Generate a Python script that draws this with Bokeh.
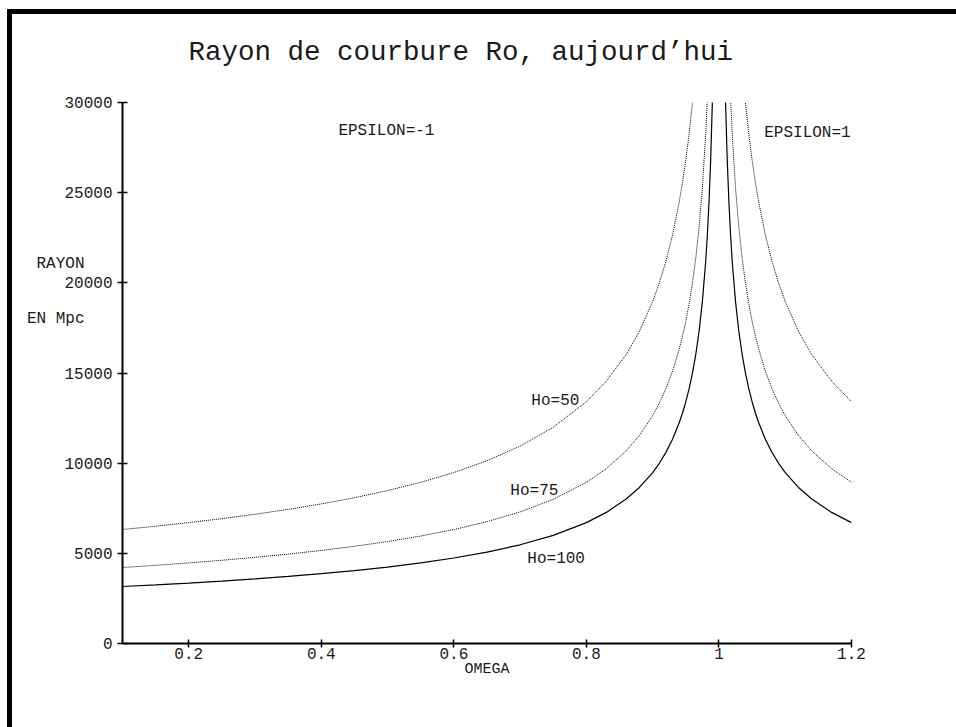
from bokeh.plotting import figure
from bokeh.models import FixedTicker, Range1d, LinearAxis, InlineStyleSheet
from bokeh.core.properties import value
from bokeh.embed import file_html
from bokeh.resources import INLINE

# ---- data ----
omega_left = [0.1, 0.15, 0.2, 0.25, 0.3, 0.35, 0.4, 0.45, 0.5, 0.55, 0.6, 0.65, 0.7, 0.75,
              0.8, 0.83, 0.86, 0.88, 0.9, 0.91, 0.92, 0.93, 0.94, 0.945, 0.95, 0.955, 0.96,
              0.965, 0.97, 0.975, 0.98, 0.9825, 0.985, 0.9875, 0.99, 0.992, 0.994]
omega_right = [1.006, 1.008, 1.01, 1.0125, 1.015, 1.0175, 1.02, 1.025, 1.03, 1.035, 1.04,
               1.045, 1.05, 1.055, 1.06, 1.07, 1.08, 1.09, 1.1, 1.12, 1.14, 1.17, 1.2]

r_h50_left = [6320.2, 6503.4, 6703.6, 6923.4, 7166.4, 7437.0, 7740.6, 8084.8, 8479.4, 8938.0,
              9480.2, 10134.8, 10946.8, 11991.6, 13407.2, 14542.0, 16024.6, 17308.4, 18960.6,
              19986.2, 21198.4, 22662.2, 24477.8, 25566.4, 26814.2, 28264.6, 29979.2, 32049.0,
              34617.0, 37921.0, 42397.0, 45324.2, 48955.8, 53626.4, 59958.4, 67036.0, 77405.8]
r_h75_left = [4213.4, 4335.6, 4469.0, 4615.6, 4777.6, 4958.0, 5160.4, 5389.9, 5652.9, 5958.7,
              6320.2, 6756.6, 7297.9, 7994.5, 8938.1, 9694.7, 10683.0, 11538.9, 12640.4,
              13324.1, 14132.3, 15108.1, 16318.6, 17044.2, 17876.1, 18843.1, 19986.2, 21366.0,
              23078.0, 25280.7, 28264.7, 30216.1, 32637.2, 35751.0, 39972.3, 44690.7, 51603.9]
r_h100_left = [3160.1, 3251.7, 3351.8, 3461.7, 3583.2, 3718.5, 3870.3, 4042.4, 4239.7, 4469.0,
               4740.1, 5067.4, 5473.4, 5995.8, 6703.6, 7271.0, 8012.3, 8654.2, 9480.3,
               9993.1, 10599.2, 11331.1, 12238.9, 12783.2, 13407.1, 14132.3, 14989.6, 16024.5,
               17308.5, 18960.5, 21198.5, 22662.1, 24477.9, 26813.2, 29979.2, 33518.0, 38702.9]

r_h50_right = [77405.8, 67036.0, 59958.4, 53626.4, 48955.8, 45324.2, 42397.0, 37921.0, 34617.0,
               32049.0, 29979.2, 28264.6, 26814.2, 25566.4, 24477.8, 22662.2, 21198.4, 19986.2,
               18960.6, 17308.4, 16024.6, 14542.0, 13407.2]
r_h75_right = [51603.9, 44690.7, 39972.3, 35751.0, 32637.2, 30216.1, 28264.7, 25280.7, 23078.0,
               21366.0, 19986.2, 18843.1, 17876.1, 17044.2, 16318.6, 15108.1, 14132.3, 13324.1,
               12640.4, 11538.9, 10683.0, 9694.7, 8938.1]
r_h100_right = [38702.9, 33518.0, 29979.2, 26813.2, 24477.9, 22662.1, 21198.5, 18960.5, 17308.5,
                16024.5, 14989.6, 14132.3, 13407.1, 12783.2, 12238.9, 11331.1, 10599.2, 9993.1,
                9480.3, 8654.2, 8012.3, 7271.0, 6703.6]

x_ticks = [0.2, 0.4, 0.6, 0.8, 1.0, 1.2]
x_tick_labels = ["0.2", "0.4", "0.6", "0.8", "1", "1.2"]
y_ticks = [0, 5000, 10000, 15000, 20000, 25000, 30000]
y_tick_labels = ["0", "5000", "10000", "15000", "20000", "25000", "30000"]

# y-axis caption lines and where they sit (data units)
ycap_pos = [21072, 18022]
ycap_text = ["RAYON", "EN Mpc"]

# in-plot annotations
note_x = [0.4258, 1.0683, 0.7169, 0.6852, 0.7109]
note_y = [28447, 28336, 13420, 8484, 4713]
note_text = ["EPSILON=-1", "EPSILON=1", "Ho=50", "Ho=75", "Ho=100"]

title_text = "Rayon de courbure Ro, aujourd\u2019hui"
x_label = "OMEGA"
FONT = "Liberation Mono"
TXT = "#1a1a1a"

p = figure(width=956, height=727, output_backend="svg", toolbar_location=None,
           x_range=Range1d(0.1, 1.2), y_range=Range1d(0, 30000),
           min_border_left=122, min_border_right=105, min_border_top=102, min_border_bottom=84,
           title=title_text)
p.outline_line_color = None
p.grid.visible = False
p.background_fill_color = "white"
p.border_fill_color = "white"

# page frame (left and top edges of the sheet), drawn as an overlay on top of the canvas
frame_css = (":host{position:relative;}"
             ":host::after{content:'';position:absolute;left:7px;top:9px;right:0;bottom:0;"
             "border-left:5px solid #000;border-top:5px solid #000;"
             "pointer-events:none;z-index:10;}")
p.stylesheets = [InlineStyleSheet(css=frame_css)]

p.title.text_font = FONT
p.title.text_font_size = "27.5px"
p.title.text_font_style = "normal"
p.title.text_color = TXT
p.title.align = "left"
p.title.offset = 66
p.title.standoff = 69

for ax in (p.xaxis[0], p.yaxis[0]):
    ax.axis_line_width = 2
    ax.axis_line_color = "black"
    ax.major_tick_line_color = "black"
    ax.major_tick_line_width = 1.5
    ax.minor_tick_line_color = None
    ax.major_label_text_font = FONT
    ax.major_label_text_font_size = "16px"
    ax.major_label_text_color = TXT

p.xaxis.ticker = FixedTicker(ticks=x_ticks)
p.xaxis.major_label_overrides = {t: l for t, l in zip(x_ticks, x_tick_labels)}
p.xaxis.major_tick_in = 4
p.xaxis.major_tick_out = 4
p.xaxis.major_label_standoff = 0
p.xaxis.axis_label = x_label
p.xaxis.axis_label_text_font = FONT
p.xaxis.axis_label_text_font_size = "15px"
p.xaxis.axis_label_text_font_style = "normal"
p.xaxis.axis_label_text_color = TXT
p.xaxis.axis_label_standoff = -1

p.yaxis.ticker = FixedTicker(ticks=y_ticks)
p.yaxis.major_label_overrides = {t: l for t, l in zip(y_ticks, y_tick_labels)}
p.yaxis.major_tick_in = 5
p.yaxis.major_tick_out = 5
p.yaxis.major_label_standoff = 5

cap_axis = LinearAxis(ticker=FixedTicker(ticks=ycap_pos),
                      major_label_overrides={t: l for t, l in zip(ycap_pos, ycap_text)},
                      axis_line_color=None, major_tick_line_color=None, minor_tick_line_color=None,
                      major_tick_in=0, major_tick_out=0, major_label_standoff=-23,
                      major_label_text_font=FONT, major_label_text_font_size="16px",
                      major_label_text_color=TXT)
p.add_layout(cap_axis, "left")

# curves
p.line(omega_left, r_h50_left, line_color="black", line_width=1, line_dash="1 1")
p.line(omega_right, r_h50_right, line_color="black", line_width=1, line_dash="1 1")
p.line(omega_left, r_h75_left, line_color="black", line_width=1, line_dash="1 1")
p.line(omega_right, r_h75_right, line_color="black", line_width=1, line_dash="1 1")
p.line(omega_left, r_h100_left, line_color="black", line_width=1.2)
p.line(omega_right, r_h100_right, line_color="black", line_width=1.2)

p.text(x=note_x, y=note_y, text=note_text, text_font=value(FONT), text_font_size="16px",
       text_align="left", text_baseline="middle", text_color=TXT)

open("out.html", "w").write(file_html(p, INLINE))
